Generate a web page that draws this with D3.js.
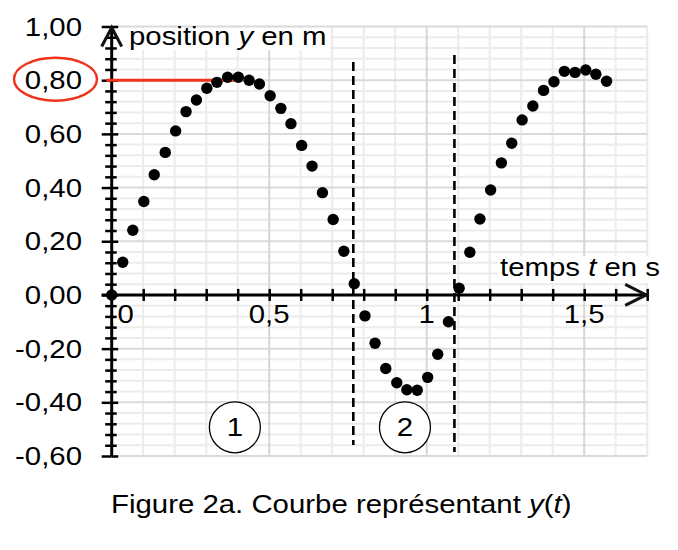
<!DOCTYPE html>
<html><head><meta charset="utf-8">
<script src="https://cdn.jsdelivr.net/npm/d3@7"></script>
<style>html,body{margin:0;padding:0;background:#fff;}svg{display:block;}</style>
</head><body>
<svg id="chart" width="678" height="550"></svg>
<script>
// ---- data ----
const tValues = [0,0.035,0.067,0.102,0.135,0.170,0.203,0.236,0.269,0.302,0.334,0.368,0.402,0.436,0.469,0.503,0.537,0.569,0.603,0.636,0.669,0.703,0.737,0.770,0.804,0.836,0.870,0.905,0.937,0.970,1.003,1.035,1.069,1.103,1.137,1.169,1.203,1.237,1.270,1.303,1.337,1.371,1.404,1.437,1.471,1.505,1.537,1.571];
const yValues = [0,0.122,0.241,0.348,0.448,0.531,0.611,0.683,0.726,0.770,0.792,0.811,0.811,0.800,0.786,0.742,0.695,0.638,0.557,0.480,0.381,0.281,0.163,0.042,-0.078,-0.180,-0.274,-0.327,-0.353,-0.355,-0.307,-0.221,-0.100,0.025,0.159,0.283,0.391,0.492,0.565,0.652,0.704,0.762,0.794,0.833,0.829,0.838,0.822,0.796];
const yTickValues = [-0.6,-0.4,-0.2,0,0.2,0.4,0.6,0.8,1.0];
const yTickLabels = ["-0,60","-0,40","-0,20","0,00","0,20","0,40","0,60","0,80","1,00"];
const xTickValues = [0,0.5,1,1.5];
const xTickLabels = ["0","0,5","1","1,5"];
const dashedT = [0.767,1.088];
const dashedTop = [0.868,0.894];
const dashedBottom = [-0.559,-0.585];
const regionLabels = ["1","2"];
const regionT = [0.391,0.931];
const regionY = [-0.493,-0.493];
const highlightY = 0.8;
const highlightT = [-0.017,0.402];
const xAxisTitle = [["temps ",false],["t",true],[" en s",false]];
const yAxisTitle = [["position ",false],["y",true],[" en m",false]];
const caption = [["Figure 2a. Courbe représentant ",false],["y",true],["(",false],["t",true],[")",false]];

// ---- setup ----
const svg = d3.select("#chart");
const x = d3.scaleLinear().domain([0,1.7]).range([111.7,647.2]);
const y = d3.scaleLinear().domain([-0.6,1.0]).range([456,26.5]);
const FONT = "'Liberation Sans', Arial, sans-serif";
const FS = 26, SX = 1.13;

const r3 = v => Math.round(v*1000)/1000;
const xMinor = d3.range(1,18).map(i => r3(i*0.1));
const yMinor = d3.range(0,41).map(i => r3(-0.6 + i*0.04));
const isMajorY = v => Math.abs(v*5 - Math.round(v*5)) < 1e-6;
const isMajorX = v => Math.abs(v*2 - Math.round(v*2)) < 1e-6;

// grid
const grid = svg.append("g");
grid.selectAll("line.h").data(yMinor.filter(v => !isMajorY(v))).join("line")
  .attr("x1", x(0)).attr("x2", x(1.7)).attr("y1", d => y(d)).attr("y2", d => y(d))
  .attr("stroke", "#ececec").attr("stroke-width", 2);
grid.selectAll("line.v").data(xMinor.filter(v => !isMajorX(v))).join("line")
  .attr("x1", d => x(d)).attr("x2", d => x(d)).attr("y1", y(1.0)).attr("y2", y(-0.6))
  .attr("stroke", "#ececec").attr("stroke-width", 2);
grid.append("g").selectAll("line").data(yMinor.filter(v => isMajorY(v))).join("line")
  .attr("x1", x(0)).attr("x2", x(1.7)).attr("y1", d => y(d)).attr("y2", d => y(d))
  .attr("stroke", "#dadada").attr("stroke-width", 2);
grid.append("g").selectAll("line").data(xMinor.filter(v => isMajorX(v))).join("line")
  .attr("x1", d => x(d)).attr("x2", d => x(d)).attr("y1", y(1.0)).attr("y2", y(-0.6))
  .attr("stroke", "#d6d6d6").attr("stroke-width", 2);

// text helper
function txt(px, py, anchor, parts) {
  const t = svg.append("text")
    .attr("transform", `translate(${px},${py}) scale(${SX},1)`)
    .attr("text-anchor", anchor)
    .attr("font-family", FONT).attr("font-size", FS).attr("fill", "#000");
  parts.forEach(p => t.append("tspan").text(p[0]).attr("font-style", p[1] ? "italic" : "normal"));
  return t;
}

// white boxes behind axis titles
svg.append("rect").attr("x", 118).attr("y", 28).attr("width", 212).attr("height", 22).attr("fill", "#fff");
svg.append("rect").attr("x", 498).attr("y", 256).attr("width", 166).attr("height", 27).attr("fill", "#fff");

// axes ticks using d3 axes
function styleAxis(g) {
  g.select(".domain").remove();
  g.selectAll(".tick line").attr("stroke", "#000").attr("stroke-width", 2.5);
  g.selectAll(".tick text").remove();
}
const yMaj = yMinor.filter(v => isMajorY(v));
const yMin = yMinor.filter(v => !isMajorY(v));
svg.append("g").attr("transform", `translate(${x(0)},0)`).call(d3.axisLeft(y).tickValues(yMaj).tickSize(10).tickFormat("")).call(styleAxis);
svg.append("g").attr("transform", `translate(${x(0)},0)`).call(d3.axisRight(y).tickValues(yMaj).tickSize(6.5).tickFormat("")).call(styleAxis);
svg.append("g").attr("transform", `translate(${x(0)},0)`).call(d3.axisLeft(y).tickValues(yMin).tickSize(6.5).tickFormat("")).call(styleAxis);
svg.append("g").attr("transform", `translate(${x(0)},0)`).call(d3.axisRight(y).tickValues(yMin).tickSize(5).tickFormat("")).call(styleAxis);
svg.append("g").attr("transform", `translate(0,${y(0)})`).call(d3.axisBottom(x).tickValues(xMinor).tickSize(6).tickFormat("")).call(styleAxis);
svg.append("g").attr("transform", `translate(0,${y(0)})`).call(d3.axisTop(x).tickValues(xMinor).tickSize(6).tickFormat("")).call(styleAxis);

// axis lines
svg.append("line").attr("x1", x(0)).attr("x2", x(0)).attr("y1", y(1.0)).attr("y2", y(-0.6))
  .attr("stroke", "#000").attr("stroke-width", 3);
svg.append("line").attr("x1", x(0) - 10).attr("x2", x(1.7)).attr("y1", y(0)).attr("y2", y(0))
  .attr("stroke", "#000").attr("stroke-width", 3);
// arrows
svg.append("polyline")
  .attr("points", `${x(0)-10},${y(1.0)+20} ${x(0)},${y(1.0)+1} ${x(0)+10},${y(1.0)+20}`)
  .attr("fill", "none").attr("stroke", "#111").attr("stroke-width", 3);
svg.append("polyline")
  .attr("points", `${x(1.7)-22},${y(0)-10.5} ${x(1.7)-1},${y(0)} ${x(1.7)-22},${y(0)+10.5}`)
  .attr("fill", "none").attr("stroke", "#111").attr("stroke-width", 3);

// tick labels
yTickValues.forEach((v, i) => txt(82, y(v) + 9, "end", [[yTickLabels[i], false]]));
xTickValues.forEach((v, i) => txt(v === 0 ? x(v) + 14 : x(v), 323, "middle", [[xTickLabels[i], false]]));

// axis titles
txt(129, 45, "start", yAxisTitle);
txt(500, 276, "start", xAxisTitle);

// highlight
svg.append("line").attr("x1", x(highlightT[0])).attr("x2", x(highlightT[1]))
  .attr("y1", y(highlightY)).attr("y2", y(highlightY))
  .attr("stroke", "#f2331c").attr("stroke-width", 3);
svg.append("ellipse").attr("cx", 55.5).attr("cy", y(highlightY) - 1).attr("rx", 41.5).attr("ry", 21.5)
  .attr("fill", "none").attr("stroke", "#f2331c").attr("stroke-width", 2.4);

// dashed lines
dashedT.forEach((t, i) => {
  svg.append("line").attr("x1", x(t)).attr("x2", x(t))
    .attr("y1", y(dashedTop[i])).attr("y2", y(dashedBottom[i]))
    .attr("stroke", "#000").attr("stroke-width", 2.6).attr("stroke-dasharray", "9,5");
});

// region labels
regionLabels.forEach((l, i) => {
  svg.append("circle").attr("cx", x(regionT[i])).attr("cy", y(regionY[i])).attr("r", 25.5)
    .attr("fill", "#fff").attr("stroke", "#000").attr("stroke-width", 1.3);
  txt(x(regionT[i]), y(regionY[i]) + 9, "middle", [[l, false]]);
});

// points
svg.append("g").selectAll("circle").data(tValues.map((t, i) => [t, yValues[i]])).join("circle")
  .attr("cx", d => x(d[0])).attr("cy", d => y(d[1])).attr("r", 5.7).attr("fill", "#000");

// caption
txt(111, 513, "start", caption);
</script>
</body></html>
